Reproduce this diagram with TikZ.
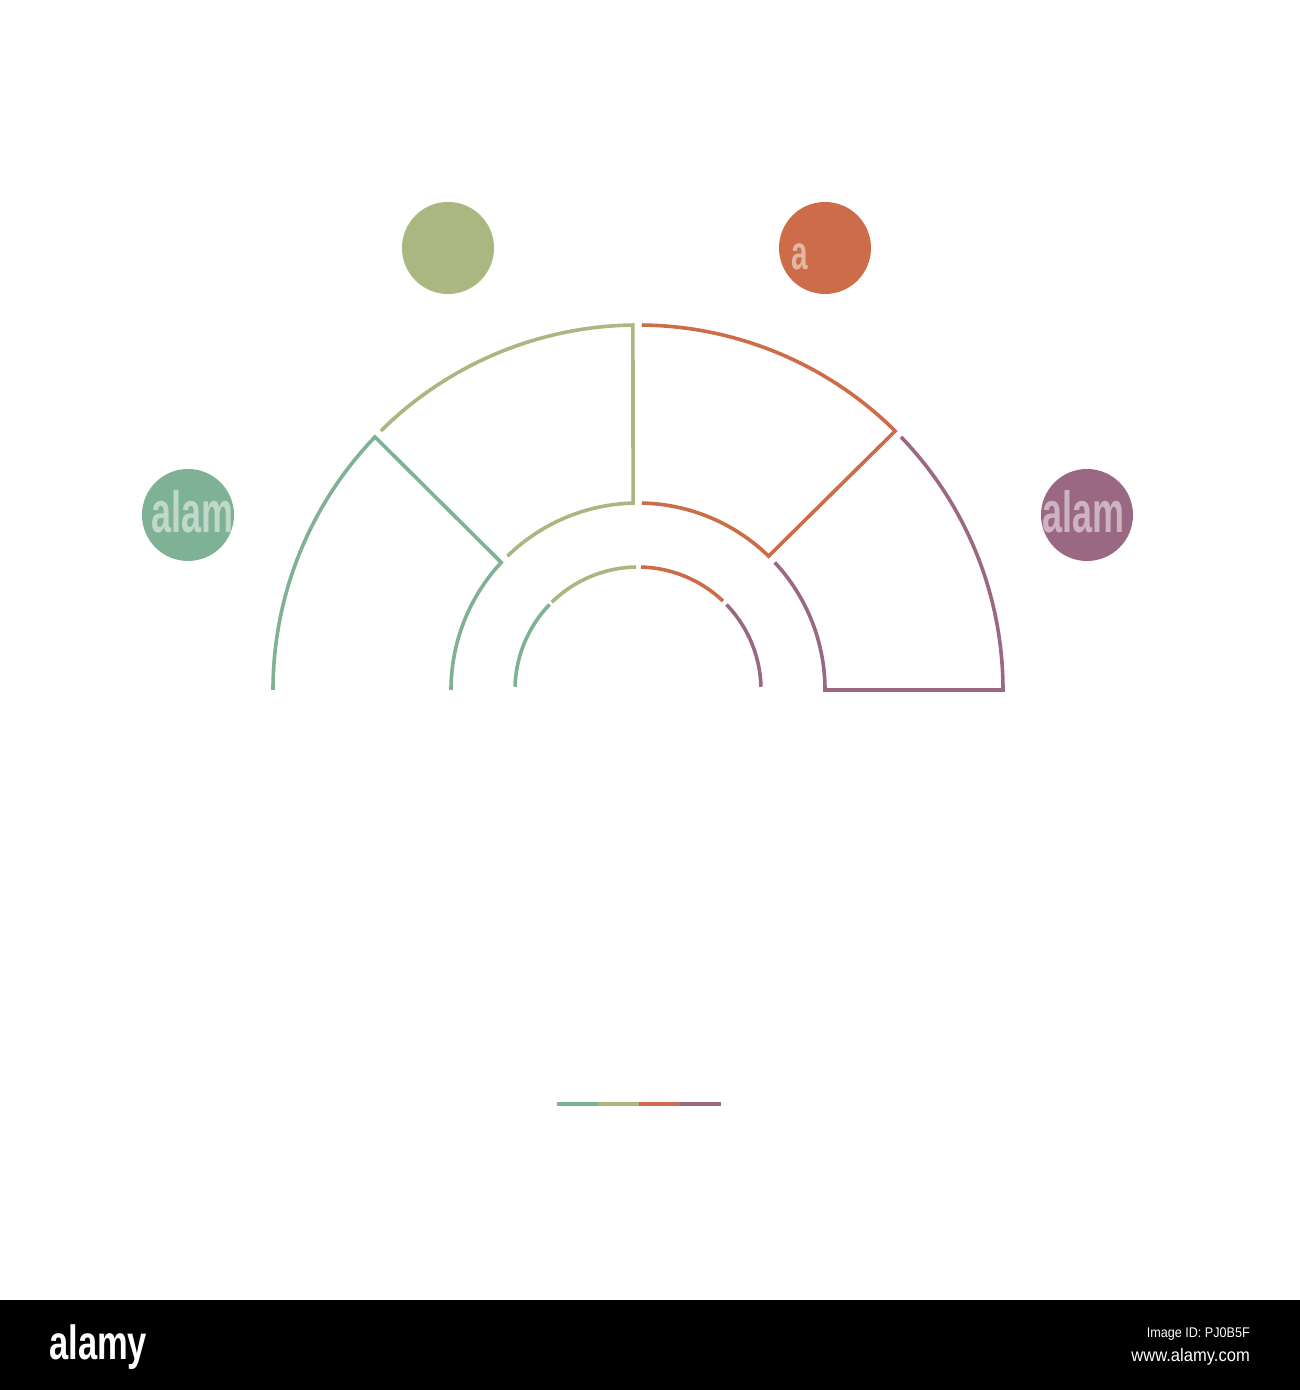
\documentclass[tikz,border=0pt]{standalone}
\usepackage{fontspec}
\setmainfont{Liberation Sans}
\definecolor{cg}{RGB}{127,178,148}
\definecolor{co}{RGB}{170,183,128}
\definecolor{cr}{RGB}{204,108,72}
\definecolor{cp}{RGB}{155,104,132}
\begin{document}
\begin{tikzpicture}[x=1pt,y=1pt,
  seg/.style={line width=3.6pt},
  dot/.style={circle,minimum size=92pt,inner sep=0pt,draw=none},
  wm/.style={text=white,text opacity=0.5,inner sep=0pt,anchor=base west},
  band/.style={text=white,inner sep=0pt}]
\useasboundingbox (0,0) rectangle (1300,1390);
\fill[white] (0,0) rectangle (1300,1390);
% circles
\node[dot,fill=co] (c1) at (448,1142) {};
\node[dot,fill=cr] (c2) at (825,1142) {};
\node[dot,fill=cg] (c0) at (188,875) {};
\node[dot,fill=cp] (c3) at (1087,875) {};
% semicircle segments
\begin{scope}[shift={(638,700)}]
  \draw[seg,cg] (180:365) arc[start angle=180,end angle=136.1,radius=365] -- (137:187) arc[start angle=137,end angle=180,radius=187];
  \draw[seg,co] (134.8:365) arc[start angle=134.8,end angle=90.8,radius=365] -- (91.5:187) arc[start angle=91.5,end angle=134.3,radius=187];
  \draw[seg,cr] (89.4:365) arc[start angle=89.4,end angle=45.2,radius=365] -- (45.7:187) arc[start angle=45.7,end angle=88.8,radius=187];
  \draw[seg,cp] (43.9:365) arc[start angle=43.9,end angle=0,radius=365] -- (0:187) arc[start angle=0,end angle=43,radius=187];
  % inner ring
  \draw[seg,cg] (178.5:123) arc[start angle=178.5,end angle=136,radius=123];
  \draw[seg,co] (134.5:123) arc[start angle=134.5,end angle=90.9,radius=123];
  \draw[seg,cr] (88.6:123) arc[start angle=88.6,end angle=46.3,radius=123];
  \draw[seg,cp] (44:123) arc[start angle=44,end angle=1.5,radius=123];
\end{scope}
% bottom coloured line
\coordinate (b0) at (557,286);
\coordinate (b1) at (598,286);
\coordinate (b2) at (639,286);
\coordinate (b3) at (680,286);
\coordinate (b4) at (721,286);
\draw[line width=3.4pt,cg] (b0) -- (b1);
\draw[line width=3.4pt,co] (b1) -- (b2);
\draw[line width=3.4pt,cr] (b2) -- (b3);
\draw[line width=3.4pt,cp] (b3) -- (b4);
% watermark text
\node[wm,font=\fontsize{58}{58}\bfseries\selectfont] (w0) at (151,857) {\scalebox{0.62}[1]{alam}};
\node[wm,font=\fontsize{58}{58}\bfseries\selectfont] (w3) at (1042,857) {\scalebox{0.62}[1]{alam}};
\node[wm,font=\fontsize{48}{48}\bfseries\selectfont] (w2) at (791,1120) {\scalebox{0.62}[1]{a}};
% bottom band
\fill[black] (0,0) rectangle (1300,90);
\node[band,anchor=base west,font=\fontsize{48}{48}\bfseries\selectfont] (logo) at (49,30) {\scalebox{0.72}[1]{alamy}};
\node[band,anchor=base east,font=\fontsize{14}{14}\selectfont] (iid) at (1250,52) {\scalebox{0.9}[1]{Image ID: PJ0B5F}};
\node[band,anchor=base east,font=\fontsize{18}{18}\selectfont] (www) at (1250,28) {\scalebox{0.92}[1]{www.alamy.com}};
\end{tikzpicture}
\end{document}
